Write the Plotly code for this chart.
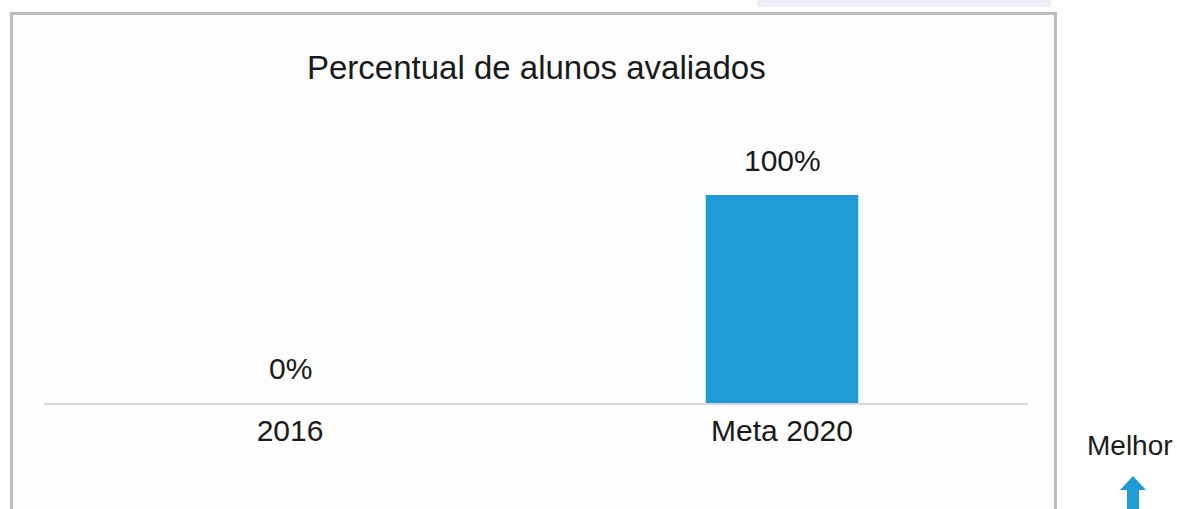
import plotly.graph_objects as go

categories = ["2016", "Meta 2020"]
values = [0, 100]
value_labels = ["0%", "100%"]
title_text = "Percentual de alunos avaliados"
side_text = "Melhor"

W, H = 1177, 509
ML, MR, MT, MB = 44, 149, 130, 106
PW, PH = W - ML - MR, H - MT - MB
YMAX = 131.25

def px(x):
    return (x - ML) / PW

def py(y):
    return (H - MB - y) / PH

xpos = list(range(len(categories)))

fig = go.Figure()
fig.add_trace(go.Bar(
    x=xpos, y=values, width=0.31,
    marker=dict(color="#1f9bd7", line=dict(width=0)),
    hoverinfo="skip",
))

font = "Liberation Sans, Arial, sans-serif"
annotations = [
    dict(text=title_text, x=0.5, xref="paper", y=py(68), yref="paper",
         showarrow=False, font=dict(family=font, size=33, color="#1a1a1a"),
         xanchor="center", yanchor="middle"),
    dict(text=side_text, x=px(1085), xref="paper", y=py(445), yref="paper",
         showarrow=False, font=dict(family=font, size=28, color="#1a1a1a"),
         xanchor="left", yanchor="middle"),
]
for i, v, t in zip(xpos, values, value_labels):
    annotations.append(dict(text=t, x=i, y=v, xref="x", yref="y",
                            showarrow=False, yanchor="bottom", yshift=16,
                            font=dict(family=font, size=30, color="#1a1a1a")))

shapes = [
    dict(type="rect", xref="paper", yref="paper", layer="below",
         x0=px(11.5), x1=px(1055.5), y0=py(530), y1=py(13.5),
         line=dict(color="#bdbdbd", width=3), fillcolor="#fdfdfd"),
    dict(type="rect", xref="paper", yref="paper", layer="below",
         x0=px(757), x1=px(1051), y0=py(7), y1=py(-5),
         line=dict(width=0), fillcolor="#eeeef9"),
    dict(type="path", xref="paper", yref="paper", layer="above",
         path=("M {a},{b} L {c},{d} L {e},{d} L {e},{f} L {g},{f} L {g},{d} L {h},{d} Z").format(
             a=px(1133), b=py(476), c=px(1120), d=py(490),
             e=px(1127), f=py(515), g=px(1139), h=px(1146)),
         line=dict(width=0), fillcolor="#1f9bd7"),
]

fig.update_layout(
    width=W, height=H,
    margin=dict(l=ML, r=MR, t=MT, b=MB, pad=0),
    paper_bgcolor="#ffffff", plot_bgcolor="rgba(0,0,0,0)",
    showlegend=False,
    xaxis=dict(range=[-0.5, len(categories) - 0.5],
               tickmode="array", tickvals=xpos, ticktext=categories,
               showline=True, linecolor="#d6d6d6", linewidth=2,
               showgrid=False, zeroline=False, ticks="",
               tickfont=dict(family=font, size=30, color="#1a1a1a"),
               fixedrange=True),
    yaxis=dict(range=[0, YMAX], visible=False, showgrid=False,
               zeroline=False, fixedrange=True),
    annotations=annotations,
    shapes=shapes,
)

fig.write_html("out.html", config={"displayModeBar": False},
               post_script="document.body.style.margin='0px';document.body.style.overflow='hidden';")
